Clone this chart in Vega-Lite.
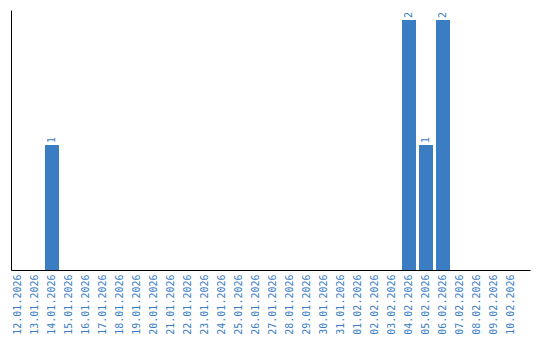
{
  "$schema": "https://vega.github.io/schema/vega-lite/v6.json",
  "width": 519,
  "height": 260,
  "autosize": {"type": "none"},
  "padding": {"left": 11, "top": 10, "right": 10, "bottom": 70},
  "config": {"view": {"stroke": null}, "font": "DejaVu Sans Mono"},
  "data": {"values": [
    {"date": "12.01.2026", "count": 0},
    {"date": "13.01.2026", "count": 0},
    {"date": "14.01.2026", "count": 1},
    {"date": "15.01.2026", "count": 0},
    {"date": "16.01.2026", "count": 0},
    {"date": "17.01.2026", "count": 0},
    {"date": "18.01.2026", "count": 0},
    {"date": "19.01.2026", "count": 0},
    {"date": "20.01.2026", "count": 0},
    {"date": "21.01.2026", "count": 0},
    {"date": "22.01.2026", "count": 0},
    {"date": "23.01.2026", "count": 0},
    {"date": "24.01.2026", "count": 0},
    {"date": "25.01.2026", "count": 0},
    {"date": "26.01.2026", "count": 0},
    {"date": "27.01.2026", "count": 0},
    {"date": "28.01.2026", "count": 0},
    {"date": "29.01.2026", "count": 0},
    {"date": "30.01.2026", "count": 0},
    {"date": "31.01.2026", "count": 0},
    {"date": "01.02.2026", "count": 0},
    {"date": "02.02.2026", "count": 0},
    {"date": "03.02.2026", "count": 0},
    {"date": "04.02.2026", "count": 2},
    {"date": "05.02.2026", "count": 1},
    {"date": "06.02.2026", "count": 2},
    {"date": "07.02.2026", "count": 0},
    {"date": "08.02.2026", "count": 0},
    {"date": "09.02.2026", "count": 0},
    {"date": "10.02.2026", "count": 0}
  ]},
  "encoding": {
    "x": {
      "field": "date", "type": "ordinal", "sort": null,
      "scale": {"paddingInner": 0.1765, "paddingOuter": 0.353, "align": 0},
      "axis": {"title": null, "labelAngle": -90, "labelColor": "#3a7dc3", "labelFontSize": 10, "labelFont": "DejaVu Sans Mono", "ticks": false, "domainColor": "#000000", "labelPadding": 4}
    },
    "y": {
      "field": "count", "type": "quantitative",
      "scale": {"domain": [0, 2.08], "nice": false},
      "axis": {"title": null, "labels": false, "ticks": false, "grid": false, "domainColor": "#000000"}
    }
  },
  "layer": [
    {"mark": {"type": "bar", "color": "#3a7dc3"}},
    {
      "transform": [{"filter": "datum.count > 0"}],
      "mark": {"type": "text", "angle": 270, "align": "left", "baseline": "middle", "dx": 2, "color": "#3a7dc3", "fontSize": 10, "font": "DejaVu Sans Mono"},
      "encoding": {"text": {"field": "count", "type": "quantitative"}}
    }
  ]
}
